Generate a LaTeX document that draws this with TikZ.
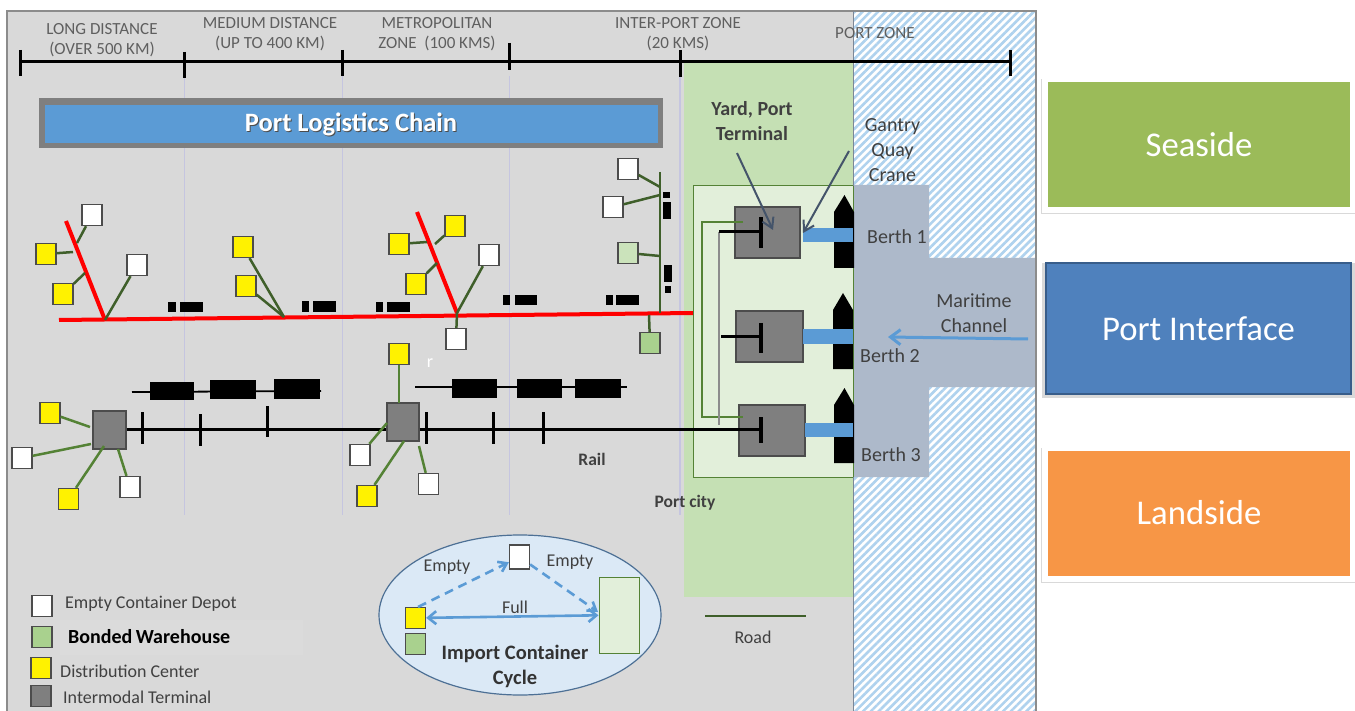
\documentclass[tikz,border=0pt]{standalone}
\usepackage{fontspec}
\setmainfont{Carlito}
\usetikzlibrary{arrows.meta,patterns.meta,shadows}
\definecolor{groundgrey}{HTML}{D9D9D9}
\definecolor{yardgreen}{HTML}{C5E0B4}
\definecolor{palegreen}{HTML}{E2EFDA}
\definecolor{midgreen}{HTML}{A9D18E}
\definecolor{roadgreen}{HTML}{548235}
\definecolor{darkroad}{HTML}{3F5F2A}
\definecolor{waterblue}{HTML}{ADB9CA}
\definecolor{stripeblue}{HTML}{AFD2EE}
\definecolor{craneblue}{HTML}{5B9BD5}
\definecolor{termgrey}{HTML}{7F7F7F}
\definecolor{slate}{HTML}{44546A}
\definecolor{inkgrey}{HTML}{404040}
\definecolor{headgrey}{HTML}{5F5F5F}
\definecolor{seagreen}{HTML}{9BBB59}
\definecolor{portblue}{HTML}{4F81BD}
\definecolor{portedge}{HTML}{385D8A}
\definecolor{landorange}{HTML}{F79646}
\tikzset{
	site/.style = {draw = black!70, line width = 1.3pt, minimum width = 20pt, minimum height = 21pt, inner sep = 0pt},
	depot/.style = {site, fill = white},
	distrib/.style = {site, fill = yellow},
	bonded/.style = {site, fill = midgreen},
	terminal/.style = {draw = black!70, line width = 1.2pt, fill = termgrey, inner sep = 0pt},
	road/.style = {draw = roadgreen, line width = 2.5pt},
	darkline/.style = {draw = darkroad, line width = 2.5pt},
	redline/.style = {draw = red, line width = 4pt},
	railline/.style = {draw = black, line width = 3pt},
	truck/.style = {fill = black},
	crane/.style = {fill = craneblue},
	note/.style = {font = \fontsize{18}{22}\selectfont, text = inkgrey, inner sep = 0pt},
	bignote/.style = {font = \fontsize{20}{25}\selectfont, text = inkgrey, inner sep = 0pt},
	zonehead/.style = {font = \fontsize{17}{20}\selectfont, text = headgrey, inner sep = 0pt},
	sidebox/.style = {draw = white, line width = 6pt, minimum width = 308pt, minimum height = 131pt, text = white, font = \fontsize{34.7}{38}\selectfont, drop shadow = {shadow xshift = 1pt, shadow yshift = -2pt, shadow scale = 1.03, opacity = 0.3}},
}
\begin{document}
\begin{tikzpicture} [x = 1pt, y = -1pt]
	\useasboundingbox (0,0) rectangle (1355,711);
	% ground, yard and water
	\fill [groundgrey] (7,11) rectangle (853,711);
	\fill [yardgreen] (684,62) rectangle (853,597);
	\fill [white] (853,11) rectangle (1036,711);
	\fill [pattern = {Lines[angle = 45, distance = 5.5pt, line width = 2.6pt]}, pattern color = stripeblue] (853,11) rectangle (1036,711);
	\fill [waterblue] (853,185) -- (929,185) -- (929,258) -- (1035,258) -- (1035,387) -- (929,387) -- (929,477) -- (853,477) -- cycle;
	\draw [black!45, line width = 1.5pt] (7,711) -- (7,11) -- (1036,11) -- (1036,711);
	\draw [slate!70, line width = 1pt] (853,11) -- (853,711);
	\draw [blue!30!gray!35, line width = 0.7pt] (184,76) -- (184,515);
	\draw [blue!30!gray!35, line width = 0.7pt] (342,76) -- (342,515);
	\draw [blue!30!gray!35, line width = 0.7pt] (509,76) -- (509,515);
	\draw [blue!30!gray!35, line width = 1.5pt] (680,76) -- (680,515);
	% distance scale
	\draw [black, line width = 3pt] (20,62) -- (1010,62);
	\draw [black, line width = 3pt] (20,50) -- (20,76);
	\draw [black, line width = 3pt] (184,52) -- (184,78);
	\draw [black, line width = 3pt] (342,50) -- (342,76);
	\draw [black, line width = 3pt] (509,43) -- (509,70);
	\draw [black, line width = 3pt] (680,50) -- (680,77);
	\draw [black, line width = 3pt] (1010,50) -- (1010,76);
	\node [zonehead, align = center] (long) at (102,40) {LONG DISTANCE\\(OVER 500 KM)};
	\node [zonehead, align = center] (medium) at (270,34.5) {MEDIUM DISTANCE\\(UP TO 400 KM)};
	\node [zonehead, align = center] (metro) at (437,34.5) {METROPOLITAN\\ZONE\ \ (100 KMS)};
	\node [zonehead, align = center] (inter) at (678,34.5) {INTER-PORT ZONE\\(20 KMS)};
	\node [zonehead] (zone) at (875,33) {PORT ZONE};
	% banner
	\fill [termgrey] (39,98) rectangle (663,148);
	\fill [craneblue] (45,105) rectangle (658,143);
	\node [font = \fontsize{26.5}{30}\selectfont\bfseries, text = black!70, inner sep = 0pt] (shade) at (352,125) {Port Logistics Chain};
	\node [font = \fontsize{26.5}{30}\selectfont\bfseries, text = white, inner sep = 0pt] (banner) at (351,124) {Port Logistics Chain};
	% road network
	\coordinate (r0) at (59,320);
	\coordinate (r1) at (693,313);
	\draw [redline] (r0) -- (r1);
	\coordinate (b1) at (66,221);
	\coordinate (j1) at (105,320);
	\draw [redline] (b1) -- (j1);
	\coordinate (b2) at (417,212);
	\coordinate (j3) at (457,313);
	\draw [redline] (b2) -- (j3);
	\coordinate (j2) at (284,317);
	\coordinate (j4) at (660,313);
	\coordinate (j5) at (660,172);
	\draw [darkline] (j5) -- (j4);
	\node [depot] (e1) at (92,215) {};
	\node [distrib] (d1) at (46,254) {};
	\node [distrib] (d2) at (63,294) {};
	\node [depot] (e2) at (137,265) {};
	\node [distrib] (d3) at (243,247) {};
	\node [distrib] (d4) at (246,286) {};
	\node [distrib] (d5) at (399,244) {};
	\node [distrib] (d6) at (455,226) {};
	\node [distrib] (d7) at (416,284) {};
	\node [depot] (e3) at (489,255) {};
	\node [depot] (e4) at (456,339) {};
	\node [depot] (e5) at (628,169) {};
	\node [depot] (e6) at (613,207) {};
	\node [bonded, fill = midgreen!60] (w1) at (628,253) {};
	\node [bonded] (w2) at (650,343) {};
	\coordinate (a1) at (77,243);
	\coordinate (a2) at (73,252);
	\coordinate (a3) at (85,273);
	\draw [darkline] (e1) -- (a1);
	\draw [darkline] (d1) -- (a2);
	\draw [darkline] (d2) -- (a3);
	\draw [darkline] (e2) -- (j1);
	\draw [darkline] (d3) -- (j2);
	\draw [darkline] (d4) -- (j2);
	\coordinate (a4) at (427,242);
	\coordinate (a5) at (435,244);
	\coordinate (a6) at (437,263);
	\draw [darkline] (d5) -- (a4);
	\draw [darkline] (d6) -- (a5);
	\draw [darkline] (d7) -- (a6);
	\draw [darkline] (e3) -- (j3);
	\draw [darkline] (e4) -- (j3);
	\coordinate (a7) at (660,187);
	\coordinate (a8) at (660,195);
	\coordinate (a9) at (660,256);
	\coordinate (a10) at (649,315);
	\draw [darkline] (e5) -- (a7);
	\draw [darkline] (e6) -- (a8);
	\draw [darkline] (w1) -- (a9);
	\draw [darkline] (w2) -- (a10);
	% trucks
	\fill [truck] (168,302) rectangle (176,312);
	\fill [truck] (180,302) rectangle (203,312);
	\fill [truck] (302,301) rectangle (309,312);
	\fill [truck] (313,301) rectangle (336,312);
	\fill [truck] (376,302) rectangle (383,312);
	\fill [truck] (387,302) rectangle (410,312);
	\fill [truck] (503,295) rectangle (510,305);
	\fill [truck] (515,295) rectangle (537,305);
	\fill [truck] (606,295) rectangle (613,305);
	\fill [truck] (616,295) rectangle (639,305);
	\fill [truck] (663,192) rectangle (670,198);
	\fill [truck] (663,202) rectangle (671,219);
	\fill [truck] (664,265) rectangle (672,282);
	\fill [truck] (665,286) rectangle (671,293);
	% trains
	\draw [black, line width = 1.8pt] (132,392) -- (321,391);
	\fill [truck] (150,382) rectangle (194,400);
	\fill [truck] (210,380) rectangle (256,399);
	\fill [truck] (274,379) rectangle (320,399);
	\draw [black, line width = 1.8pt] (415,387) -- (627,387);
	\fill [truck] (452,379) rectangle (497,398);
	\fill [truck] (517,379) rectangle (562,398);
	\fill [truck] (575,379) rectangle (621,398);
	% port yard
	\draw [roadgreen, line width = 1pt, fill = palegreen] (853,186) -- (693,186) -- (693,477) -- (853,477);
	\draw [roadgreen, line width = 1pt] (853,186) -- (853,477);
	\node [terminal, minimum width = 65pt, minimum height = 51pt] (t1) at (767.5,232.5) {};
	\node [terminal, minimum width = 67pt, minimum height = 51pt] (t2) at (769.5,336.5) {};
	\node [terminal, minimum width = 66pt, minimum height = 51pt] (t3) at (772,430.5) {};
	\coordinate (g1) at (743,222);
	\coordinate (g2) at (702,222);
	\coordinate (g3) at (702,417);
	\coordinate (g4) at (743,417);
	\draw [road, line width = 2.8pt] (g1) -- (g2) -- (g3) -- (g4);
	\draw [black!45, line width = 1.5pt] (719,232) -- (719,425);
	\draw [railline] (719,232) -- (761,232);
	\draw [railline, line width = 3.4pt] (761,217) -- (761,248);
	\draw [railline] (721,337) -- (761,337);
	\draw [railline, line width = 3.4pt] (761,323) -- (761,353);
	\draw [railline, line width = 3.4pt] (761,417) -- (761,443);
	% ships and cranes
	\fill [black] (834,268) -- (834,212) -- (844.5,195) -- (854,212) -- (854,268) -- cycle;
	\fill [black] (833,369) -- (833,310) -- (843,293) -- (853,310) -- (853,369) -- cycle;
	\fill [black] (834,463) -- (834,405) -- (844.5,388) -- (854,405) -- (854,463) -- cycle;
	\fill [crane] (803,228) rectangle (853,242);
	\fill [crane] (803,329) rectangle (853,344);
	\fill [crane] (805,423) rectangle (853,437);
	% rail network
	\node [terminal, minimum width = 33pt, minimum height = 38pt] (m1) at (109.5,430) {};
	\node [terminal, minimum width = 32pt, minimum height = 38pt] (m2) at (403,422) {};
	\coordinate (rt) at (761,429);
	\draw [railline] (m1.east |- rt) -- (m2.west |- rt);
	\draw [railline] (m2.east |- rt) -- (rt);
	\draw [railline] (142,412) -- (142,444);
	\draw [railline] (200,414) -- (200,446);
	\draw [railline] (267.5,406) -- (267.5,437);
	\draw [railline] (426,412) -- (426,444);
	\draw [railline] (493,412) -- (493,444);
	\draw [railline] (543,412) -- (543,444);
	\node [distrib] (d8) at (50,413) {};
	\node [depot] (e7) at (22,458) {};
	\node [distrib] (d9) at (68.5,499) {};
	\node [depot] (e8) at (130,487) {};
	\node [distrib] (d10) at (399,354) {};
	\node [depot] (e9) at (360,455) {};
	\node [distrib] (d11) at (367,496) {};
	\node [depot] (e10) at (428.5,484) {};
	\coordinate (c1) at (90,427);
	\coordinate (c2) at (91,444);
	\coordinate (c3) at (104,446);
	\coordinate (c4) at (118,449);
	\draw [road] (d8) -- (c1);
	\draw [road] (e7) -- (c2);
	\draw [road] (d9) -- (c3);
	\draw [road] (e8) -- (c4);
	\coordinate (c5) at (399,403);
	\coordinate (c6) at (387,423);
	\coordinate (c7) at (404,441);
	\coordinate (c8) at (419,446);
	\draw [road] (d10) -- (c5);
	\draw [road] (e9) -- (c6);
	\draw [road] (d11) -- (c7);
	\draw [road] (e10) -- (c8);
	% port labels and arrows
	\node [bignote, font = \fontsize{20}{25}\selectfont\bfseries, align = center] (yard) at (752,121.5) {Yard, Port\\Terminal};
	\node [bignote, align = center] (gantry) at (892.5,150.5) {Gantry\\Quay\\Crane};
	\coordinate (y0) at (737,153);
	\coordinate (y1) at (773,230);
	\coordinate (q0) at (849,151);
	\coordinate (q1) at (803,233);
	\draw [slate, line width = 2pt, -{Straight Barb[length = 10pt, width = 12pt]}] (y0) -- (y1);
	\draw [slate, line width = 2pt, -{Straight Barb[length = 10pt, width = 12pt]}] (q0) -- (q1);
	\node [bignote] (berth1) at (897,237) {Berth 1};
	\node [bignote] (berth2) at (890,356) {Berth 2};
	\node [bignote] (berth3) at (891,455) {Berth 3};
	\node [bignote, align = center] (channel) at (974,313) {Maritime\\Channel};
	\coordinate (w0) at (1028,339);
	\coordinate (w3) at (888,337);
	\draw [craneblue, line width = 3pt, -{Straight Barb[length = 10pt, width = 15pt]}] (w0) -- (w3);
	\node [note, font = \fontsize{17.5}{20}\selectfont\bfseries] (railtext) at (592,459) {Rail};
	\node [note, font = \fontsize{17.5}{20}\selectfont\bfseries] (city) at (685,503) {Port city};
	\node [text = white, inner sep = 0pt, font = \fontsize{18}{20}\selectfont] (stray) at (430,363) {r};
	\coordinate (o0) at (705,616);
	\coordinate (o1) at (806,616);
	\draw [darkline] (o0) -- (o1);
	\node [note] (roadtext) at (753,637) {Road};
	% key
	\fill [black!14] (60,620) rectangle (303,655);
	\node [depot] (ke) at (42,606) {};
	\node [bonded] (kb) at (42,637) {};
	\node [distrib] (kd) at (41,668) {};
	\node [terminal, minimum width = 20pt, minimum height = 21pt] (kt) at (41,696) {};
	\node [note, anchor = west] (kte) at (65,604) {Empty Container Depot};
	\node [note, anchor = west, text = black, font = \fontsize{20}{22}\selectfont\bfseries] (ktb) at (68,637) {Bonded\,Warehouse};
	\node [note, anchor = west] (ktd) at (60,671) {Distribution Center};
	\node [note, anchor = west] (ktt) at (63,697) {Intermodal Terminal};
	% import cycle
	\draw [fill = craneblue!22, draw = slate!60!craneblue, line width = 1.2pt] (520,615) ellipse (141 and 80);
	\node [depot, minimum height = 24pt] (ce) at (519.5,557) {};
	\node [distrib] (cd) at (415.5,618) {};
	\node [bonded] (cw) at (415.5,644) {};
	\node [draw = roadgreen, line width = 1pt, fill = palegreen, minimum width = 40pt, minimum height = 76pt, inner sep = 0pt] (cy) at (619,615) {};
	\coordinate (f0) at (418,607);
	\coordinate (f1) at (598,612);
	\draw [craneblue, line width = 2.6pt, {Straight Barb[length = 8pt, width = 13pt]}-{Straight Barb[length = 8pt, width = 13pt]}] (cd) -- (cy);
	\draw [craneblue, line width = 2.6pt, dash pattern = on 9pt off 6pt, -{Straight Barb[length = 8pt, width = 11pt]}] (f0) -- (ce);
	\draw [craneblue, line width = 2.6pt, dash pattern = on 9pt off 6pt, -{Straight Barb[length = 8pt, width = 11pt]}] (ce) -- (f1);
	\node [note] (ce1) at (447,567) {Empty};
	\node [note] (ce2) at (570,562) {Empty};
	\node [note] (cf) at (515,607) {Full};
	\node [bignote, text = black!80, font = \fontsize{20.5}{25}\selectfont\bfseries, align = center] (cycle) at (515,666.5) {Import Container\\Cycle};
	% sides
	\node [sidebox, fill = seagreen] (seaside) at (1199,144.5) {Seaside};
	\node [sidebox, draw = portedge, line width = 1.5pt, fill = portblue, minimum width = 305pt] (interface) at (1198.5,328.5) {Port Interface};
	\node [sidebox, fill = landorange] (landside) at (1199,513) {Landside};
\end{tikzpicture}
\end{document}
